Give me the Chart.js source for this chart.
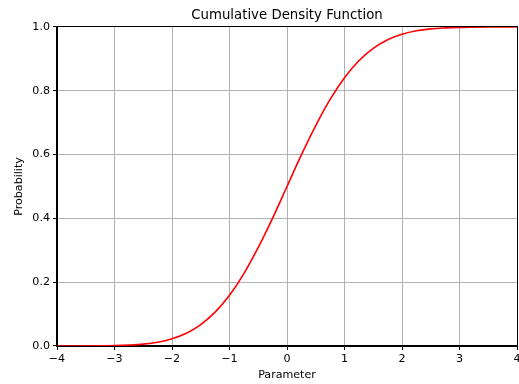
<!DOCTYPE html>
<html>
<head>
<meta charset="utf-8">
<script src="https://cdn.jsdelivr.net/npm/chart.js@4/dist/chart.umd.min.js"></script>
<style>
  html, body { margin: 0; padding: 0; background: #fff; overflow: hidden; }
  canvas { display: block; }
</style>
</head>
<body>
<canvas id="c" width="519" height="384"></canvas>
<script>
// Values
const parameterValues = [-4, -3.75, -3.5, -3.25, -3, -2.75, -2.5, -2.25, -2, -1.75, -1.5, -1.25, -1, -0.75, -0.5, -0.25, 0,
                         0.25, 0.5, 0.75, 1, 1.25, 1.5, 1.75, 2, 2.25, 2.5, 2.75, 3, 3.25, 3.5, 3.75, 4];
const probabilityValues = [0.0000, 0.0001, 0.0002, 0.0006, 0.0013, 0.003, 0.006, 0.012, 0.023, 0.040, 0.067, 0.106, 0.159, 0.227, 0.309, 0.401, 0.500,
                           0.599, 0.691, 0.773, 0.841, 0.894, 0.933, 0.960, 0.977, 0.988, 0.994, 0.997, 0.9987, 0.9994, 0.9998, 0.9999, 1.0];
const xTickValues = [-4, -3, -2, -1, 0, 1, 2, 3, 4];
const yTickValues = [0.0, 0.2, 0.4, 0.6, 0.8, 1.0];
const chartTitle = 'Cumulative Density Function';
const xAxisTitle = 'Parameter';
const yAxisTitle = 'Probability';

Chart.defaults.font.family = "'DejaVu Sans', sans-serif";
Chart.defaults.color = '#000';

const points = parameterValues.map((x, i) => ({ x: x, y: probabilityValues[i] }));

const spines = {
  id: 'spines',
  beforeDatasetsDraw(chart) {
    const a = chart.chartArea, ctx = chart.ctx;
    ctx.save();
    ctx.strokeStyle = '#000';
    ctx.lineWidth = 1;
    ctx.strokeRect(Math.round(a.left) - 0.5, Math.round(a.top) - 0.5,
                   Math.round(a.right) - Math.round(a.left) + 1, Math.round(a.bottom) - Math.round(a.top) + 1);
    ctx.restore();
  }
};

new Chart(document.getElementById('c'), {
  type: 'line',
  data: {
    datasets: [{
      data: points,
      borderColor: '#ff0000',
      borderWidth: 1.6,
      pointRadius: 0,
      fill: false,
      cubicInterpolationMode: 'monotone'
    }]
  },
  options: {
    responsive: false,
    animation: false,
    devicePixelRatio: 1,
    layout: { padding: { left: 0, right: 2, top: 0, bottom: 0 } },
    plugins: {
      legend: { display: false },
      tooltip: { enabled: false },
      title: {
        display: true,
        text: chartTitle,
        fullSize: false,
        font: { size: 13.3, weight: 'normal' },
        padding: { top: 8, bottom: 3 },
        color: '#000'
      }
    },
    scales: {
      x: {
        type: 'linear',
        min: -4, max: 4,
        afterBuildTicks(scale) { scale.ticks = xTickValues.map(v => ({ value: v })); },
        afterFit(scale) { scale.height = 38; scale.paddingLeft = 0; scale.paddingRight = 0; },
        ticks: {
          font: { size: 11.1 },
          padding: 2,
          maxRotation: 0,
          autoSkip: false,
          callback: v => String(v).replace('-', '\u2212')
        },
        grid: { color: '#b0b0b0', lineWidth: 1, tickLength: 4, tickColor: '#000' },
        border: { display: true, color: '#000', width: 1 },
        title: { display: true, text: xAxisTitle, font: { size: 11.1 }, padding: { top: 0, bottom: 2.3 } }
      },
      y: {
        type: 'linear',
        min: 0, max: 1,
        afterBuildTicks(scale) { scale.ticks = yTickValues.map(v => ({ value: v })); },
        afterFit(scale) { scale.width = 57; scale.paddingTop = 0; scale.paddingBottom = 0; },
        ticks: {
          font: { size: 11.1 },
          padding: 3,
          autoSkip: false,
          callback: v => Number(v).toFixed(1)
        },
        grid: { color: '#b0b0b0', lineWidth: 1, tickLength: 4, tickColor: '#000' },
        border: { display: true, color: '#000', width: 1 },
        title: { display: true, text: yAxisTitle, font: { size: 11.1 }, padding: { top: 12.3, bottom: 0 } }
      }
    }
  },
  plugins: [spines]
});
</script>
</body>
</html>
